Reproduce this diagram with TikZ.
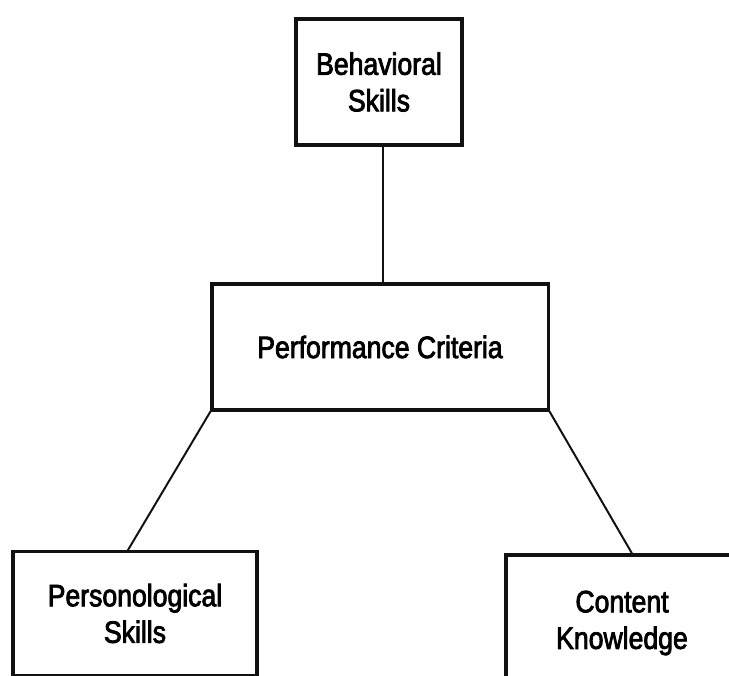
\documentclass[tikz,border=0pt]{standalone}
\usepackage{fontspec}
\setmainfont{Liberation Sans}[FakeStretch=0.86, FakeBold=2.5]
\usetikzlibrary{positioning, calc}
\definecolor{cink}{HTML}{111111}
\tikzset{
  every picture/.style={font=\fontsize{22}{26}\selectfont, line width=1.3pt},
  box/.style={draw=cink, line width=2.2pt, align=center, inner sep=4pt, minimum height=3.15cm},
  link/.style={draw=cink, line width=1.4pt},
}

\begin{document}
\begin{tikzpicture}[x=0.025cm, y=-0.025cm]
  \clip (0,0) rectangle (729,676);
  \fill[white] (0,0) rectangle (729,676);
  % the four boxes
  \node[box, minimum width=4.15cm] (behav) at (379,82) {Behavioral\\Skills};
  \node[box, minimum width=8.4cm] (perf) at (380,347) {Performance Criteria};
  \node[box, minimum width=6.1cm, minimum height=3.08cm] (pers) at (135,613.5) {Personological\\Skills};
  \node[box, minimum width=5.8cm, minimum height=3.4cm] (cont) at (622,623) {Content\\Knowledge};
  % links between them
  \draw[link] ([xshift=0.1cm]behav.south) -- ([xshift=0.1cm]behav.south |- perf.north);
  \draw[link] (perf.south west) -- ([xshift=-0.18cm]pers.north);
  \draw[link] (perf.south east) -- ([xshift=0.25cm]cont.north);
\end{tikzpicture}
\end{document}
